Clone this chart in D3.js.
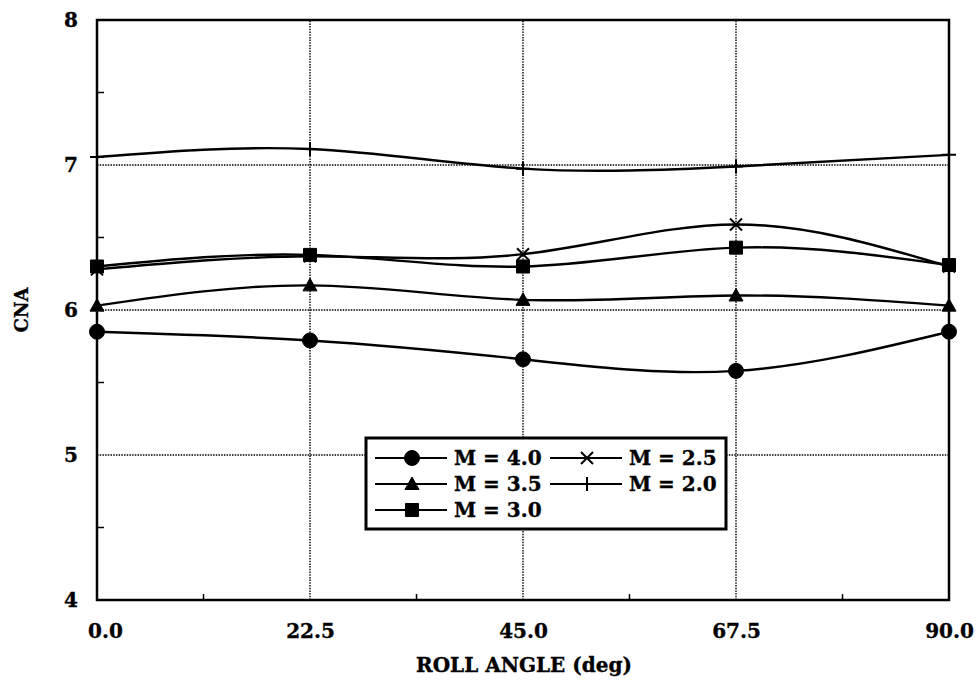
<!DOCTYPE html>
<html><head><meta charset="utf-8">
<script src="https://cdn.jsdelivr.net/npm/d3@7"></script>
<style>body{margin:0;background:#fff}text{font-family:"DejaVu Serif",serif;font-weight:bold;fill:#000;stroke:#000;stroke-width:0.35px}</style>
</head><body><svg id="c" width="978" height="685"></svg>
<script>
const rollAngles=[0,22.5,45,67.5,90];
const xTickLabels=["0.0","22.5","45.0","67.5","90.0"];
const xMinorTicks=[11.25,33.75,56.25,78.75];
const yTicks=[4,5,6,7,8];
const yMinorTicks=[4.5,5.5,6.5,7.5];
const seriesNames=["M = 4.0","M = 3.5","M = 3.0","M = 2.5","M = 2.0"];
const cnaM40=[5.85,5.79,5.66,5.58,5.85];
const cnaM35=[6.03,6.17,6.07,6.10,6.03];
const cnaM30=[6.30,6.38,6.30,6.43,6.31];
const cnaM25=[6.28,6.37,6.385,6.59,6.30];
const cnaM20=[7.055,7.11,6.975,6.99,7.07];
const seriesValues=[cnaM40,cnaM35,cnaM30,cnaM25,cnaM20];
const markerTypes=["circle","triangle","square","times","plus"];

const W=978,H=685,m={l:97,r:29,t:20,b:85};
const svg=d3.select("#c");
const x=d3.scaleLinear().domain([0,90]).range([m.l,W-m.r]);
const y=d3.scaleLinear().domain([4,8]).range([H-m.b,m.t]);

// grid
const g=svg.append("g");
g.selectAll(".gx").data(rollAngles.slice(1,-1)).join("line")
  .attr("x1",d=>x(d)).attr("x2",d=>x(d)).attr("y1",y(4)).attr("y2",y(8))
  .attr("stroke","#000").attr("stroke-width",1.4).attr("stroke-dasharray","1.5,1.2");
g.selectAll(".gy").data(yTicks.slice(1,-1)).join("line")
  .attr("x1",x(0)).attr("x2",x(90)).attr("y1",d=>y(d)).attr("y2",d=>y(d))
  .attr("stroke","#000").attr("stroke-width",1.4).attr("stroke-dasharray","1.5,1.2");

// minor ticks
g.selectAll(".mx").data(xMinorTicks).join("line")
  .attr("x1",d=>x(d)).attr("x2",d=>x(d)).attr("y1",y(4)).attr("y2",y(4)-6)
  .attr("stroke","#000").attr("stroke-width",1.5);
g.selectAll(".my").data(yMinorTicks).join("line")
  .attr("x1",x(0)).attr("x2",x(0)+7).attr("y1",d=>y(d)).attr("y2",d=>y(d))
  .attr("stroke","#000").attr("stroke-width",1.5);

// axes labels
const xa=svg.append("g").attr("transform",`translate(0,${y(4)})`)
  .call(d3.axisBottom(x).tickValues(rollAngles).tickFormat((d,i)=>xTickLabels[i]).tickSize(0).tickPadding(24));
xa.select(".domain").remove();
xa.selectAll("text").attr("font-size",20).attr("font-family","DejaVu Serif").attr("font-weight","bold")
  .attr("dx",(d,i)=>i===0?8:0);
const ya=svg.append("g").attr("transform",`translate(${x(0)},0)`)
  .call(d3.axisLeft(y).tickValues(yTicks).tickFormat(d3.format("d")).tickSize(0).tickPadding(19));
ya.select(".domain").remove();
ya.selectAll("text").attr("font-size",20).attr("font-family","DejaVu Serif").attr("font-weight","bold");

// frame
svg.append("rect").attr("x",x(0)).attr("y",y(8)).attr("width",x(90)-x(0)).attr("height",y(4)-y(8))
  .attr("fill","none").attr("stroke","#000").attr("stroke-width",2.5);

// titles
svg.append("text").attr("x",(x(0)+x(90))/2+1).attr("y",672).attr("text-anchor","middle")
  .attr("font-size",20).text("ROLL ANGLE (deg)");
svg.append("text").attr("transform",`translate(28,${(y(4)+y(8))/2}) rotate(-90)`).attr("text-anchor","middle")
  .attr("font-size",18).text("CNA");

function markerPath(type){
  const p=d3.path();
  if(type==="circle"){p.arc(0,0,7.5,0,2*Math.PI);}
  else if(type==="triangle"){p.moveTo(0,-7);p.lineTo(7,5.5);p.lineTo(-7,5.5);p.closePath();}
  else if(type==="square"){p.rect(-6.5,-6.5,13,13);}
  else if(type==="times"){p.moveTo(-6,-6);p.lineTo(6,6);p.moveTo(-6,6);p.lineTo(6,-6);}
  else if(type==="plus"){p.moveTo(-7,0);p.lineTo(7,0);p.moveTo(0,-7);p.lineTo(0,7);}
  return p.toString();
}
function drawMarker(sel,type){
  sel.attr("d",markerPath(type))
    .attr("fill",(type==="times"||type==="plus")?"none":"#000")
    .attr("stroke","#000").attr("stroke-width",(type==="times"||type==="plus")?2:1);
}

const line=d3.line().x((d,i)=>x(rollAngles[i])).y(d=>y(d)).curve(d3.curveNatural);
const sg=svg.append("g");
seriesValues.forEach((vals,si)=>{
  sg.append("path").attr("d",line(vals)).attr("fill","none").attr("stroke","#000").attr("stroke-width",2.4);
});
seriesValues.forEach((vals,si)=>{
  sg.selectAll(null).data(vals).join("path")
    .attr("transform",(d,i)=>`translate(${x(rollAngles[i])},${y(d)})`)
    .call(s=>drawMarker(s,markerTypes[si]));
});

// legend
const lg=svg.append("g");
lg.append("rect").attr("x",366).attr("y",438).attr("width",360).attr("height",91)
  .attr("fill","#fff").attr("stroke","#000").attr("stroke-width",3);
const legPos=[[375,458],[375,484],[375,510],[550,458],[550,484]];
seriesNames.forEach((name,i)=>{
  const [lx,ly]=legPos[i];
  lg.append("line").attr("x1",lx).attr("x2",lx+72).attr("y1",ly).attr("y2",ly).attr("stroke","#000").attr("stroke-width",2);
  lg.append("path").attr("transform",`translate(${lx+37},${ly})`).call(s=>drawMarker(s,markerTypes[i]));
  lg.append("text").attr("x",lx+79).attr("y",ly).attr("dy","0.36em").attr("font-size",20).text(name);
});
</script></body></html>
